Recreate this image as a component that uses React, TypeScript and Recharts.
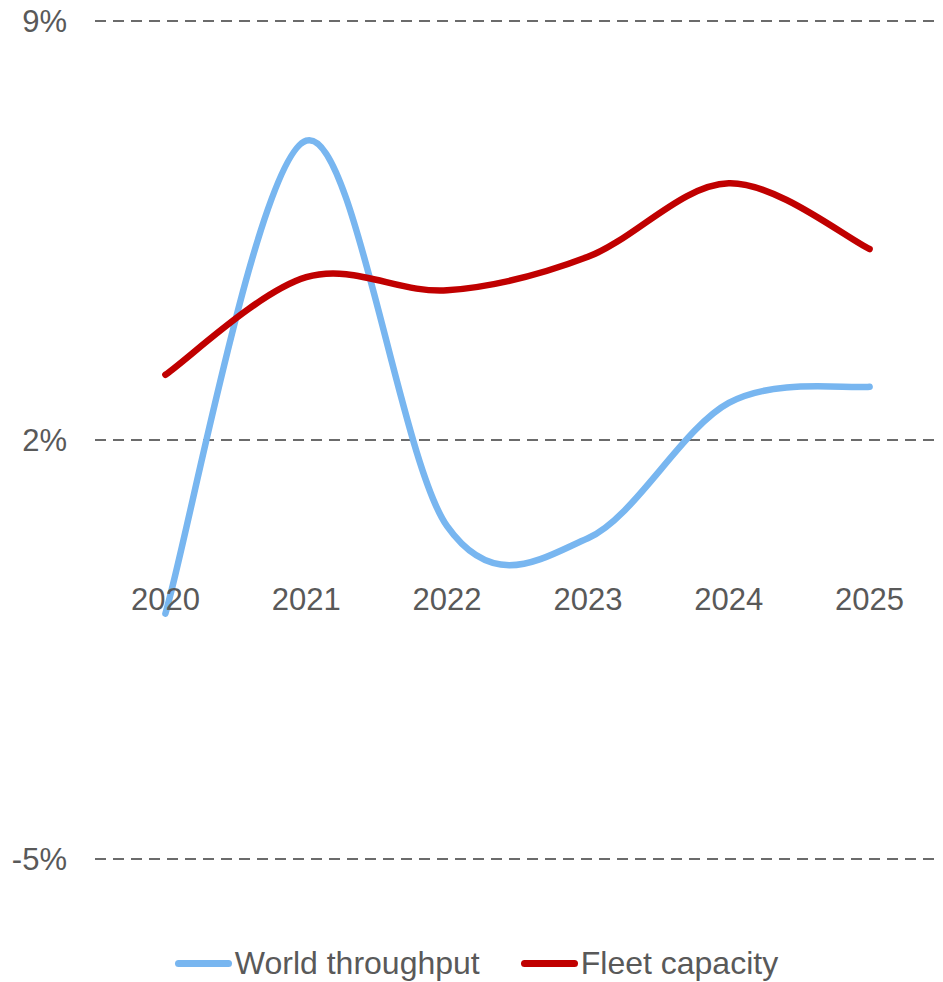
import React from "react";
import {
  CartesianGrid,
  Legend,
  Line,
  LineChart,
  ReferenceDot,
  XAxis,
  YAxis,
} from "recharts";

const YEARS = ["2020", "2021", "2022", "2023", "2024", "2025"];
const WORLD_THROUGHPUT = [-0.9, 7.0, 0.56, 0.36, 2.62, 2.89];
const FLEET_CAPACITY = [3.09, 4.72, 4.5, 5.06, 6.29, 5.19];
const Y_TICKS = [-5, 2, 9];

const BLUE = "#78b6f0";
const RED = "#c00000";
const TEXT = "#595959";
const FONT = "'Liberation Sans', Arial, sans-serif";

const data = YEARS.map((year, i) => ({
  year,
  world: WORLD_THROUGHPUT[i],
  fleet: FLEET_CAPACITY[i],
}));

// Excel-style smoothed line (Catmull-Rom through the points)
function smoothCurve(context: any) {
  let pts: Array<[number, number]> = [];
  return {
    areaStart() {},
    areaEnd() {},
    lineStart() {
      pts = [];
    },
    point(x: number, y: number) {
      pts.push([+x, +y]);
    },
    lineEnd() {
      if (!pts.length) return;
      context.moveTo(pts[0][0], pts[0][1]);
      for (let i = 0; i < pts.length - 1; i++) {
        const p0 = pts[Math.max(i - 1, 0)];
        const p1 = pts[i];
        const p2 = pts[i + 1];
        const p3 = pts[Math.min(i + 2, pts.length - 1)];
        context.bezierCurveTo(
          p1[0] + (p2[0] - p0[0]) / 6,
          p1[1] + (p2[1] - p0[1]) / 6,
          p2[0] - (p3[0] - p1[0]) / 6,
          p2[1] - (p3[1] - p1[1]) / 6,
          p2[0],
          p2[1]
        );
      }
    },
  };
}

const LEGEND_ITEMS = [
  { label: "World throughput", color: BLUE },
  { label: "Fleet capacity", color: RED },
];

function LegendContent() {
  return (
    <div
      style={{
        display: "flex",
        justifyContent: "center",
        alignItems: "center",
        gap: 41,
        paddingLeft: 10,
        fontFamily: FONT,
        fontSize: 32,
        color: TEXT,
        lineHeight: "34px",
        height: 34,
      }}
    >
      {LEGEND_ITEMS.map((item) => (
        <div key={item.label} style={{ display: "flex", alignItems: "center" }}>
          <span
            style={{
              display: "inline-block",
              width: 57,
              height: 7,
              borderRadius: 3.5,
              background: item.color,
              marginRight: 3,
            }}
          />
          <span>{item.label}</span>
        </div>
      ))}
    </div>
  );
}

export default function App() {
  return (
    <div style={{ position: "absolute", left: 0, top: 0, background: "#fff" }}>
      <LineChart
        width={943}
        height={982}
        data={data}
        margin={{ top: 21, right: 3, bottom: 123, left: 0 }}
      >
        <CartesianGrid
          vertical={false}
          stroke="#6b6b6b"
          strokeWidth={2}
          strokeDasharray="11 7"
        />
        <XAxis
          dataKey="year"
          hide
          padding={{ left: 70.4, right: 70.4 }}
        />
        <YAxis
          width={95}
          domain={[-5, 9]}
          ticks={Y_TICKS}
          tickFormatter={(v: number) => `${v}%`}
          axisLine={false}
          tickLine={false}
          tickSize={0}
          tickMargin={28}
          tick={{ fill: TEXT, fontSize: 31, fontFamily: FONT }}
        />
        {YEARS.map((year) => (
          <ReferenceDot
            key={year}
            x={year}
            y={0}
            r={0}
            fill="none"
            stroke="none"
            label={{
              value: year,
              position: "bottom",
              offset: 28,
              fill: TEXT,
              fontSize: 31,
              fontFamily: FONT,
            }}
          />
        ))}
        <Line
          dataKey="world"
          name="World throughput"
          type={smoothCurve as any}
          stroke={BLUE}
          strokeWidth={6.5}
          strokeLinecap="round"
          dot={false}
          activeDot={false}
          isAnimationActive={false}
        />
        <Line
          dataKey="fleet"
          name="Fleet capacity"
          type={smoothCurve as any}
          stroke={RED}
          strokeWidth={6.5}
          strokeLinecap="round"
          dot={false}
          activeDot={false}
          isAnimationActive={false}
        />
        <Legend
          layout="horizontal"
          verticalAlign="middle"
          align="center"
          content={<LegendContent />}
          wrapperStyle={{ top: 946, left: 0, width: 943, height: 34 }}
        />
      </LineChart>
    </div>
  );
}
